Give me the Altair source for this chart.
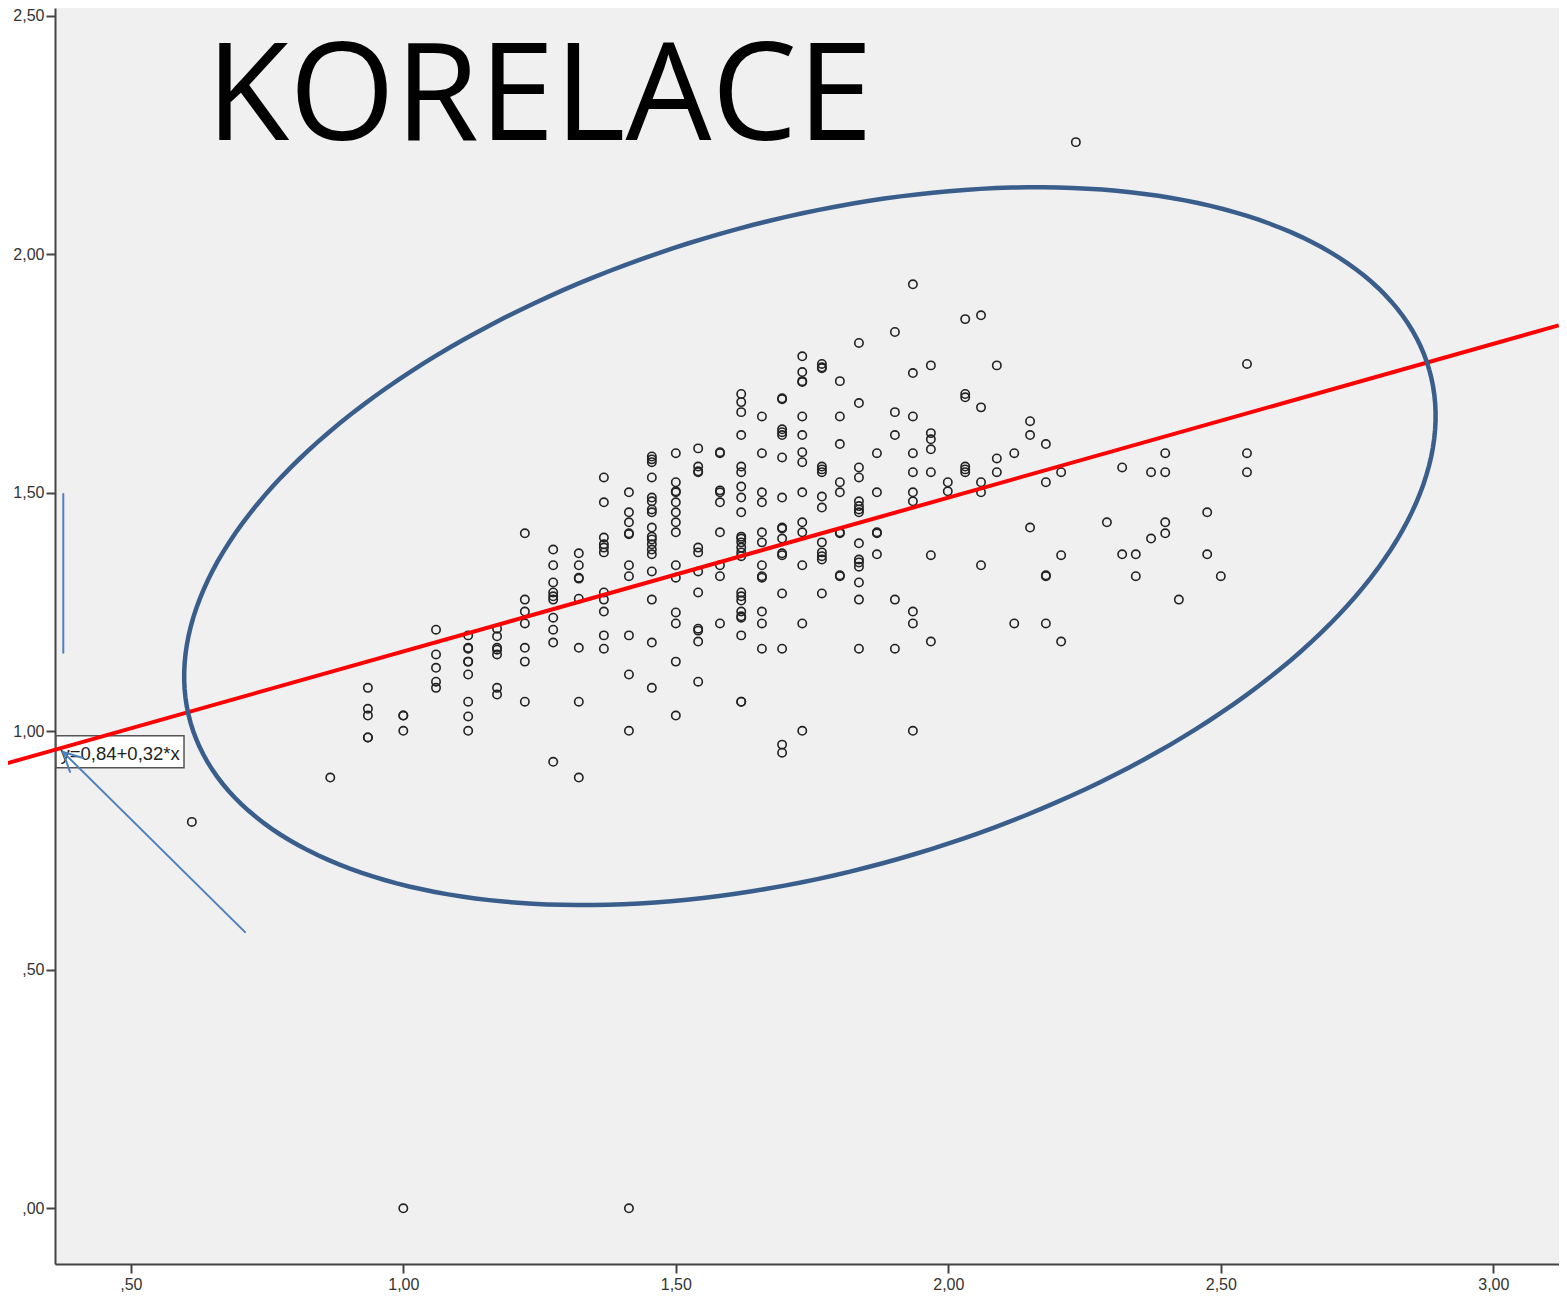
import math
import altair as alt
import pandas as pd

# ---------------- data ----------------
x_levels = [0.612, 0.866, 0.935, 1.000, 1.060, 1.119, 1.172, 1.223, 1.275, 1.322,
            1.368, 1.414, 1.456, 1.500, 1.541, 1.581, 1.620, 1.658, 1.695, 1.732,
            1.768, 1.801, 1.836, 1.869, 1.902, 1.935, 1.968, 1.999, 2.031, 2.060,
            2.089, 2.121, 2.150, 2.179, 2.207, 2.234, 2.291, 2.319, 2.344, 2.372,
            2.398, 2.423, 2.475, 2.500, 2.548]

y_by_level = [
    [0.810],
    [0.903],
    [1.091, 1.047, 1.033, 0.987, 0.987],
    [1.033, 1.033, 1.001, 0.000],
    [1.213, 1.161, 1.133, 1.104, 1.091],
    [1.201, 1.175, 1.173, 1.146, 1.146, 1.119, 1.062, 1.031, 1.001],
    [1.215, 1.199, 1.175, 1.171, 1.161, 1.091, 1.077],
    [1.415, 1.276, 1.251, 1.226, 1.175, 1.146, 1.062],
    [1.381, 1.348, 1.312, 1.291, 1.283, 1.276, 1.238, 1.213, 1.186, 0.936],
    [1.373, 1.348, 1.322, 1.320, 1.278, 1.175, 1.062, 0.903],
    [1.532, 1.480, 1.406, 1.392, 1.385, 1.375, 1.291, 1.276, 1.251, 1.201, 1.173],
    [1.501, 1.459, 1.438, 1.415, 1.413, 1.348, 1.325, 1.201, 1.119, 1.001, 0.000],
    [1.576, 1.570, 1.564, 1.532, 1.490, 1.482, 1.465, 1.459, 1.427, 1.408, 1.402,
     1.392, 1.381, 1.371, 1.335, 1.276, 1.186, 1.091],
    [1.583, 1.522, 1.503, 1.501, 1.480, 1.459, 1.438, 1.417, 1.348, 1.322, 1.249,
     1.226, 1.146, 1.033],
    [1.593, 1.555, 1.545, 1.543, 1.385, 1.375, 1.335, 1.291, 1.215, 1.211, 1.188, 1.104],
    [1.585, 1.583, 1.505, 1.501, 1.480, 1.417, 1.348, 1.325, 1.226],
    [1.707, 1.690, 1.669, 1.621, 1.555, 1.543, 1.513, 1.490, 1.459, 1.408, 1.404,
     1.396, 1.385, 1.375, 1.367, 1.291, 1.283, 1.274, 1.251, 1.241, 1.238, 1.201,
     1.062, 1.062],
    [1.660, 1.583, 1.501, 1.480, 1.417, 1.396, 1.348, 1.325, 1.322, 1.251, 1.226, 1.173],
    [1.698, 1.696, 1.633, 1.627, 1.621, 1.574, 1.490, 1.427, 1.425, 1.404, 1.373,
     1.369, 1.289, 1.173, 0.972, 0.955],
    [1.786, 1.753, 1.734, 1.732, 1.660, 1.621, 1.585, 1.564, 1.501, 1.438, 1.417,
     1.348, 1.226, 1.001],
    [1.770, 1.763, 1.761, 1.555, 1.549, 1.543, 1.492, 1.469, 1.396, 1.375, 1.367,
     1.360, 1.289],
    [1.734, 1.660, 1.602, 1.522, 1.501, 1.417, 1.415, 1.327, 1.325],
    [1.814, 1.688, 1.553, 1.532, 1.482, 1.472, 1.465, 1.459, 1.394, 1.360, 1.354,
     1.345, 1.312, 1.276, 1.173],
    [1.583, 1.501, 1.417, 1.415, 1.371],
    [1.837, 1.669, 1.621, 1.276, 1.173],
    [1.937, 1.751, 1.660, 1.583, 1.543, 1.501, 1.482, 1.251, 1.226, 1.001],
    [1.767, 1.625, 1.612, 1.591, 1.543, 1.369, 1.188],
    [1.522, 1.503],
    [1.864, 1.707, 1.700, 1.555, 1.549, 1.543],
    [1.872, 1.679, 1.522, 1.501, 1.348],
    [1.767, 1.572, 1.543],
    [1.583, 1.226],
    [1.650, 1.621, 1.427],
    [1.602, 1.522, 1.327, 1.325, 1.226],
    [1.543, 1.369, 1.188],
    [2.235],
    [1.438],
    [1.553, 1.371],
    [1.371, 1.325],
    [1.543, 1.404],
    [1.583, 1.543, 1.438, 1.415],
    [1.276],
    [1.459, 1.371],
    [1.325],
    [1.770, 1.583, 1.543],
]

reg_intercept = 0.845
reg_slope = 0.3224
reg_x_ends = [0.272, 3.12]

title_text = "KORELACE"
equation_text = "y=0,84+0,32*x"

x_ticks = [0.5, 1.0, 1.5, 2.0, 2.5, 3.0]
y_ticks = [0.0, 0.5, 1.0, 1.5, 2.0, 2.5]
x_domain = [0.3609, 3.1205]
y_domain = [-0.1168, 2.5162]

# annotation anchors (data units)
title_anchor = (0.638, 2.2394)
eq_box = (0.3628, 0.5976, 0.9234, 0.9904)
eq_text_anchor = (0.371, 0.9396)
arrow_tail = (0.7096, 0.579)
arrow_tip = (0.3756, 0.9565)
arrow_barbs = [(0.4123, 0.944), (0.3884, 0.915)]
side_bar = (0.3761, 1.1647, 1.4974)
ellipse_center = (1.746, 1.388)
ellipse_semi_px = (644.0, 325.0)
ellipse_angle_deg = 15.9

# ---------------- chart ----------------
W, H = 1504, 1256

pts = pd.DataFrame(
    [{"x": xv, "y": yv} for xv, ys in zip(x_levels, y_by_level) for yv in ys]
)

xs = alt.Scale(domain=x_domain, nice=False, zero=False)
ys_ = alt.Scale(domain=y_domain, nice=False, zero=False)

axis_common = dict(
    title=None, grid=False, domainColor="#444444", domainWidth=2,
    tickColor="#444444", tickWidth=2, tickSize=9, labelFontSize=16,
    labelFont="Liberation Sans", labelColor="#333333", labelFlush=False,
)
lab = ("datum.value < 1 ? ',' + substring(format(datum.value, '.2f'), 2) : "
       "replace(format(datum.value, '.2f'), '.', ',')")
x_axis = alt.Axis(values=x_ticks, labelExpr=lab, labelPadding=3, **axis_common)
y_axis = alt.Axis(values=y_ticks, labelExpr=lab, labelPadding=2, **axis_common)

points = alt.Chart(pts).mark_point(
    shape="circle", filled=False, size=70, strokeWidth=1.6, color="#222222", opacity=1
).encode(
    x=alt.X("x:Q", scale=xs, axis=x_axis),
    y=alt.Y("y:Q", scale=ys_, axis=y_axis),
)

box_df = pd.DataFrame([{"x": eq_box[0], "x2": eq_box[1], "y": eq_box[2], "y2": eq_box[3]}])
box = alt.Chart(box_df).mark_rect(
    fill="white", stroke="#555555", strokeWidth=1.5
).encode(x=alt.X("x:Q", scale=xs), x2="x2:Q", y=alt.Y("y:Q", scale=ys_), y2="y2:Q")

eq_df = pd.DataFrame([{"x": eq_text_anchor[0], "y": eq_text_anchor[1], "t": equation_text}])
eq = alt.Chart(eq_df).mark_text(
    align="left", baseline="alphabetic", font="Liberation Sans", fontSize=18.5, color="#222222"
).encode(x=alt.X("x:Q", scale=xs), y=alt.Y("y:Q", scale=ys_), text="t:N")

reg_df = pd.DataFrame({"x": reg_x_ends,
                       "y": [reg_intercept + reg_slope * v for v in reg_x_ends]})
reg = alt.Chart(reg_df).mark_line(color="#ff0000", strokeWidth=4, clip=False).encode(
    x=alt.X("x:Q", scale=xs), y=alt.Y("y:Q", scale=ys_)
)

ppx = W / (x_domain[1] - x_domain[0])
ppy = H / (y_domain[1] - y_domain[0])
th = math.radians(ellipse_angle_deg)
a, b = ellipse_semi_px
rows = []
N = 240
for i in range(N + 1):
    t = 2 * math.pi * i / N
    dx = a * math.cos(t) * math.cos(th) - b * math.sin(t) * math.sin(th)
    dy = a * math.cos(t) * math.sin(th) + b * math.sin(t) * math.cos(th)
    rows.append({"x": ellipse_center[0] + dx / ppx, "y": ellipse_center[1] + dy / ppy, "o": i})
ell = alt.Chart(pd.DataFrame(rows)).mark_line(
    color="#3a5e8c", strokeWidth=4.5, clip=False
).encode(x=alt.X("x:Q", scale=xs), y=alt.Y("y:Q", scale=ys_), order="o:Q")

seg_rows = [
    {"x": arrow_tail[0], "y": arrow_tail[1], "x2": arrow_tip[0], "y2": arrow_tip[1]},
    {"x": arrow_tip[0], "y": arrow_tip[1], "x2": arrow_barbs[0][0], "y2": arrow_barbs[0][1]},
    {"x": arrow_tip[0], "y": arrow_tip[1], "x2": arrow_barbs[1][0], "y2": arrow_barbs[1][1]},
    {"x": side_bar[0], "y": side_bar[1], "x2": side_bar[0], "y2": side_bar[2]},
]
segs = alt.Chart(pd.DataFrame(seg_rows)).mark_rule(
    color="#4f81bd", strokeWidth=2, strokeCap="round"
).encode(x=alt.X("x:Q", scale=xs), y=alt.Y("y:Q", scale=ys_), x2="x2:Q", y2="y2:Q")

title_df = pd.DataFrame([{"x": title_anchor[0], "y": title_anchor[1], "t": title_text}])
title = alt.Chart(title_df).mark_text(
    align="left", baseline="alphabetic", font="Open Sans", fontSize=136, color="#000000"
).encode(x=alt.X("x:Q", scale=xs), y=alt.Y("y:Q", scale=ys_), text="t:N")

chart = alt.layer(points, box, eq, reg, ell, segs, title).properties(
    width=W, height=H,
    autosize=alt.AutoSizeParams(type="none"),
    padding={"left": 47, "top": 0, "right": 0, "bottom": 28},
    background="white",
).configure_view(stroke=None, fill="#f0f0f0")

chart.save("out.html", embed_options={"renderer": "svg", "actions": False})
